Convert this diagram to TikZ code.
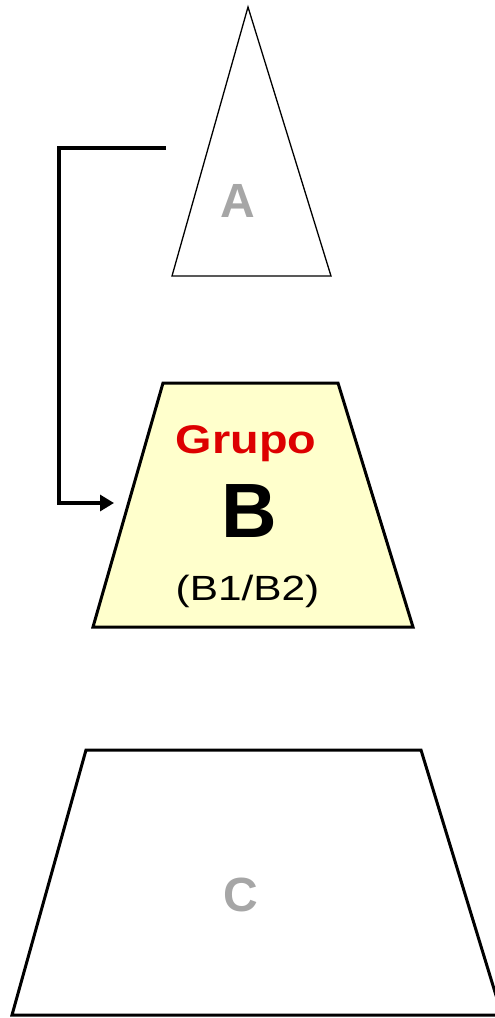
\documentclass[tikz,border=0pt]{standalone}
\usepackage{fontspec}
\setmainfont{Liberation Sans}
\usetikzlibrary{calc,arrows.meta}
\definecolor{grupored}{HTML}{DD0000}
\definecolor{levelgray}{HTML}{A6A6A6}
\definecolor{paleyellow}{HTML}{FFFFCC}

\begin{document}
\begin{tikzpicture}[x=1pt,y=-1pt,
    outline/.style={draw=black,line width=3pt,line join=miter},
    levellabel/.style={levelgray,inner sep=0pt,anchor=base,font=\fontsize{48}{48}\selectfont\bfseries}]
	\useasboundingbox (0,0) rectangle (495,1018);
	\clip (0,0) rectangle (495,1018);

	% level A (triangle)
	\coordinate (apex) at (248,7);
	\coordinate (aleft) at (172,276);
	\coordinate (aright) at (331,276);
	\draw [line width=1.3pt] (apex) -- (aleft) -- (aright) -- cycle;
	\node[levellabel] (labelA) at (238,217) {A};

	% level B (trapezoid)
	\coordinate (btl) at (163,383);
	\coordinate (btr) at (338,383);
	\coordinate (bbr) at (413,627);
	\coordinate (bbl) at (93,627);
	\draw [outline,fill=paleyellow] (btl) -- (btr) -- (bbr) -- (bbl) -- cycle;
	\node[grupored,inner sep=0pt,anchor=base,font=\fontsize{40}{40}\selectfont\bfseries] (grupo) at (246,453) {\scalebox{1.17}[1]{Grupo}};
	\node[inner sep=0pt,anchor=base,font=\fontsize{77}{77}\selectfont\bfseries] (letterB) at (249,537) {B};
	\node[inner sep=0pt,anchor=base,font=\fontsize{35}{35}\selectfont] (subB) at (247.5,600) {\scalebox{1.21}[1]{(B1/B2)}};

	% level C (trapezoid)
	\coordinate (ctl) at (86,750);
	\coordinate (ctr) at (421,750);
	\coordinate (cbr) at (502,1015);
	\coordinate (cbl) at (12,1015);
	\draw [outline] (ctl) -- (ctr) -- (cbr) -- (cbl) -- cycle;
	\node[levellabel] (labelC) at (241,911) {C};

	% link A -> B
	\coordinate (astart) at (166,148);
	\coordinate (corner) at (59,148);
	\coordinate (bentry) at (114,503);
	\draw [line width=3.2pt,-{Triangle[length=14pt,width=16pt]}] (astart) -- (corner) |- (bentry);

\end{tikzpicture}
\end{document}
